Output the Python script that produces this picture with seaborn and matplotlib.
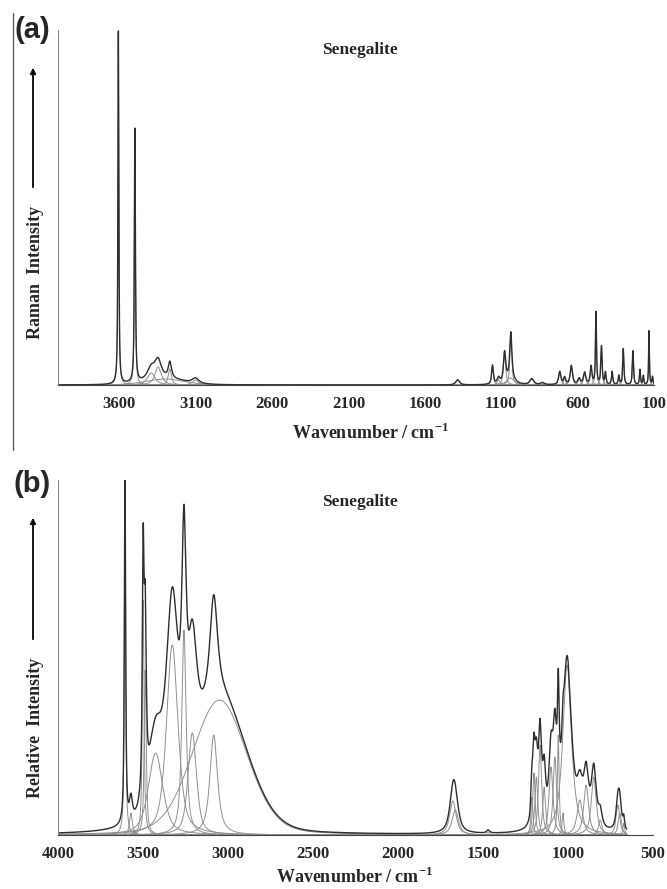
import numpy as np
import pandas as pd
import seaborn as sns
import matplotlib.pyplot as plt
from matplotlib.lines import Line2D

sns.set_style('white')
plt.rcParams['font.family'] = ['Liberation Serif', 'DejaVu Serif']
plt.rcParams['font.weight'] = 'bold'
plt.rcParams['mathtext.fontset'] = 'custom'
plt.rcParams['mathtext.rm'] = 'Liberation Serif'
plt.rcParams['mathtext.bf'] = 'Liberation Serif:bold'

# (a) Raman spectrum - band positions (cm-1), heights, widths (FWHM), lorentz fraction
raman_pos = [3605, 3497, 3390, 3345, 3268, 3300, 3100,
             1385, 1157, 1117, 1078, 1037, 1040, 900, 830,
             717, 685, 641, 590, 554, 512, 480, 444, 418, 374,
             330, 301, 238, 192, 170, 133, 110]
raman_height = [353, 254, 12, 18, 16, 6, 5,
                5, 19, 6, 30, 45, 7, 6, 2,
                13, 7, 19, 6, 12, 18, 72, 38, 12, 13,
                9, 36, 34, 15, 9, 54, 8]
raman_width = [7, 8, 60, 50, 25, 300, 50,
               30, 14, 20, 18, 16, 60, 30, 30,
               18, 16, 18, 20, 18, 14, 8, 10, 10, 10,
               10, 9, 9, 8, 8, 6, 8]
raman_lorentz = [0.8, 0.8, 0.8, 0.8, 0.8, 0.3, 0.8] + [0.8] * 25
raman_ticks = [3600, 3100, 2600, 2100, 1600, 1100, 600, 100]

# (b) relative intensity - band positions, heights, widths, lorentz fraction
rel_pos = [3606, 3571, 3499, 3487, 3426, 3328, 3259, 3210, 3084, 3050,
           1677, 1663, 1470,
           1212, 1200, 1186, 1164, 1140, 1100, 1077, 1057, 1029, 1005,
           930, 893, 848, 810, 706, 695, 672]
rel_height = [352, 22, 235, 165, 82, 190, 205, 102, 100, 135,
              34, 25, 3,
              38, 62, 58, 90, 48, 68, 78, 100, 22, 170,
              35, 50, 58, 15, 30, 22, 12]
rel_width = [9, 20, 12, 14, 100, 80, 30, 59, 53, 380,
             45, 45, 20,
             14, 16, 20, 22, 20, 28, 24, 12, 12, 60,
             40, 34, 34, 25, 26, 22, 12]
rel_lorentz = [0.8, 0.8, 0.8, 0.8, 0.6, 0.6, 0.8, 0.6, 0.8, 0.2] + [0.8] * 20
rel_ticks = [4000, 3500, 3000, 2500, 2000, 1500, 1000, 500]


def band_table(x, pos, height, width, lorentz):
    rows = []
    for i, (c, h, w, eta) in enumerate(zip(pos, height, width, lorentz)):
        d = (x - c) / (w / 2)
        y = h * (eta / (1 + d ** 2) + (1 - eta) * np.exp(-np.log(2) * d ** 2))
        rows.append(pd.DataFrame({'wavenumber': x, 'intensity': y, 'band': i}))
    return pd.concat(rows, ignore_index=True)


def draw_panel(ax, x, pos, height, width, lorentz, xlim, ticks):
    df = band_table(x, pos, height, width, lorentz)
    env = df.groupby('wavenumber', as_index=False)['intensity'].sum()
    sns.lineplot(data=df, x='wavenumber', y='intensity', units='band',
                 estimator=None, color='#8f8f8f', lw=0.7, ax=ax)
    sns.lineplot(data=env, x='wavenumber', y='intensity',
                 color='#2e2e2e', lw=1.0, ax=ax)
    ax.set_xlim(*xlim)
    ax.set_ylim(0, 355)
    ax.set_xticks(ticks)
    ax.set_yticks([])
    ax.set_xlabel('')
    ax.set_ylabel('')
    sns.despine(ax=ax)
    ax.spines['left'].set_color('#8a8a8a')
    ax.spines['left'].set_linewidth(0.8)
    ax.spines['bottom'].set_color('#444444')
    ax.spines['bottom'].set_linewidth(0.8)
    ax.tick_params(axis='x', direction='inout', length=6, width=0.8,
                   color='#444444', labelsize=12, pad=5)


fig = plt.figure(figsize=(6.67, 8.89), dpi=100)
ax1 = fig.add_axes([0.087, 0.5669, 0.8936, 0.3993])
ax2 = fig.add_axes([0.087, 0.0607, 0.892, 0.3993])

draw_panel(ax1, np.linspace(4000, 100, 7000), raman_pos, raman_height,
           raman_width, raman_lorentz, (4000, 100), raman_ticks)
draw_panel(ax2, np.linspace(4000, 655, 7000), rel_pos, rel_height,
           rel_width, rel_lorentz, (4000, 500), rel_ticks)

lab = r'Wavenumber / cm$^{\mathbf{-1}}$'
fig.text(0.556, 0.513, lab, ha='center', va='center', fontsize=13)
fig.text(0.532, 0.0135, lab, ha='center', va='center', fontsize=13)

fig.text(0.540, 0.9438, 'Senegalite', ha='center', va='center', fontsize=12.5)
fig.text(0.540, 0.4353, 'Senegalite', ha='center', va='center', fontsize=12.5)

fig.text(0.048, 0.966, '(a)', ha='center', va='center', fontsize=21,
         family='Liberation Sans', weight='bold')
fig.text(0.048, 0.4556, '(b)', ha='center', va='center', fontsize=21,
         family='Liberation Sans', weight='bold')

fig.text(0.0525, 0.693, 'Raman  Intensity', rotation=90, ha='center',
         va='center', fontsize=13)
fig.text(0.0525, 0.181, 'Relative  Intensity', rotation=90, ha='center',
         va='center', fontsize=13)
for y0, y1 in [(1 - 190 / 889, 1 - 65 / 889), (1 - 642 / 889, 1 - 515 / 889)]:
    fig.add_artist(plt.Annotation('', xy=(0.0495, y1), xytext=(0.0495, y0),
                                  xycoords='figure fraction',
                                  arrowprops=dict(arrowstyle='-|>', color='black',
                                                  lw=1.3, mutation_scale=8)))

fig.add_artist(Line2D([13 / 667, 13 / 667], [1 - 13 / 889, 1 - 450 / 889],
                      color='#555555', lw=0.9))

fig.savefig('out.png', dpi=100)
